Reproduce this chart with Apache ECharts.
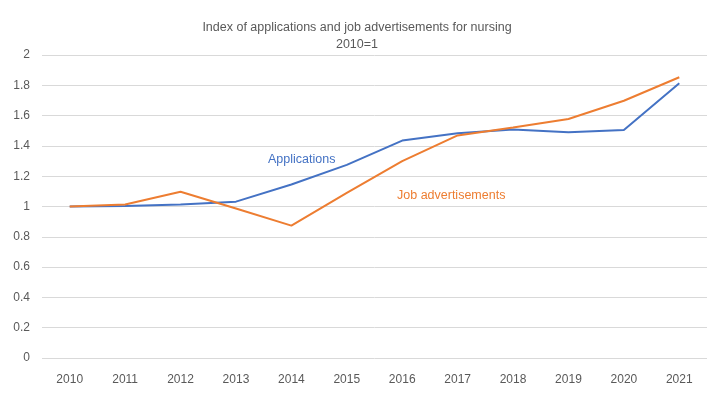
<!DOCTYPE html>
<html lang="en">
<head>
    <meta charset="UTF-8">
    <title>Nursing index</title>
    <script src="https://cdn.jsdelivr.net/npm/echarts@6/dist/echarts.min.js"></script>
    <style>
        body { margin: 0; background: #fff; }
    </style>
</head>
<body>
<div id="main" style="width: 714px;height: 397px"></div>
<script type="text/javascript">
    var years = ['2010', '2011', '2012', '2013', '2014', '2015', '2016', '2017', '2018', '2019', '2020', '2021'];
    var applications = [1.0, 1.004, 1.014, 1.032, 1.145, 1.275, 1.435, 1.484, 1.508, 1.49, 1.505, 1.813];
    var jobAds = [1.0, 1.013, 1.097, 0.987, 0.874, 1.09, 1.3, 1.469, 1.522, 1.578, 1.698, 1.853];

    var grey = '#595959';
    var myChart = echarts.init(document.getElementById('main'));

    var option = {
        animation: false,
        title: {
            text: 'Index of applications and job advertisements for nursing\n2010=1',
            left: 'center',
            top: 14,
            textStyle: {
                fontFamily: 'Liberation Sans',
                fontSize: 12.5,
                fontWeight: 'normal',
                color: grey,
                lineHeight: 17
            }
        },
        grid: {left: 42, right: 7, top: 55, bottom: 39},
        xAxis: {
            type: 'category',
            data: years,
            axisLine: {show: false},
            axisTick: {show: false},
            axisLabel: {color: grey, fontFamily: 'Liberation Sans', fontSize: 12, margin: 16}
        },
        yAxis: {
            type: 'value',
            min: 0,
            max: 2,
            interval: 0.2,
            axisLabel: {color: grey, fontFamily: 'Liberation Sans', fontSize: 12, margin: 12},
            splitLine: {lineStyle: {color: '#d9d9d9'}}
        },
        series: [
            {
                name: 'Applications',
                type: 'line',
                data: applications,
                symbol: 'none',
                lineStyle: {color: '#4472C4', width: 2},
                itemStyle: {color: '#4472C4'}
            },
            {
                name: 'Job advertisements',
                type: 'line',
                data: jobAds,
                symbol: 'none',
                lineStyle: {color: '#ED7D31', width: 2},
                itemStyle: {color: '#ED7D31'}
            }
        ],
        graphic: [
            {
                type: 'text', left: 268, top: 153,
                style: {text: 'Applications', fill: '#4472C4', font: '12.5px "Liberation Sans"'}
            },
            {
                type: 'text', left: 397, top: 189,
                style: {text: 'Job advertisements', fill: '#ED7D31', font: '12.5px "Liberation Sans"'}
            }
        ]
    };

    myChart.setOption(option);
</script>
</body>
</html>
